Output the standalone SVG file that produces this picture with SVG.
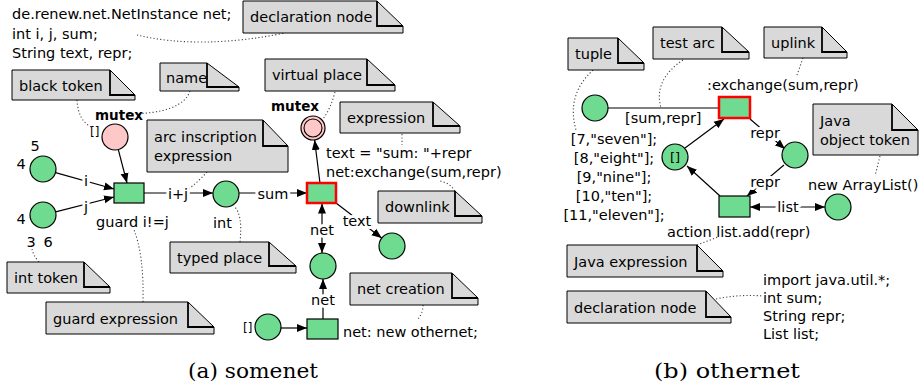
<svg xmlns="http://www.w3.org/2000/svg" width="919" height="387" viewBox="0 0 919 387">
<defs>
<marker id="ah" markerUnits="userSpaceOnUse" markerWidth="11" markerHeight="9" refX="10" refY="4.5" orient="auto-start-reverse" viewBox="0 0 11 9">
<path d="M0,0.5 L10,4.5 L0,8.5 z" fill="#000"/>
</marker>
</defs>
<style>
text{font-family:"DejaVu Sans","Liberation Sans",sans-serif;font-size:14.5px;fill:#000}
.b{font-weight:bold;font-size:13.5px}
.m{text-anchor:middle}
.h{paint-order:stroke;stroke:#fff;stroke-width:6px;stroke-linejoin:round}
.cap{font-family:"DejaVu Serif","Liberation Serif",serif;font-size:20px;text-anchor:middle}
.note polygon{fill:#d9d9d9;stroke:#000;stroke-width:1}
.note polyline{fill:none;stroke:#000;stroke-width:1.8}
.pl{fill:#6fdb90;stroke:#000;stroke-width:1.2}
.pk{fill:#ffc8c8;stroke:#000;stroke-width:1.2}
.tr{fill:#6fdb90;stroke:#000;stroke-width:1.2}
.trr{fill:#6fdb90;stroke:#ff0000;stroke-width:2.5}
.arc{fill:none;stroke:#000;stroke-width:1.2}
.arr{marker-end:url(#ah)}
.bi{marker-start:url(#ah);marker-end:url(#ah)}
.dot{fill:none;stroke:#444;stroke-width:1.1;stroke-dasharray:1.2 2.2}
</style>
<rect width="919" height="387" fill="#fff"/>

<!-- ===== (a) somenet ===== -->
<g id="decl-a">
<text x="12" y="19">de.renew.net.NetInstance net;</text>
<text x="12" y="38.5">int i, j, sum;</text>
<text x="12" y="58">String text, repr;</text>
</g>

<g id="connectors">
<!-- somenet arcs -->
<line class="arc arr" x1="55.5" y1="172.7" x2="114" y2="189"/>
<line class="arc arr" x1="55.6" y1="211.8" x2="114" y2="197"/>
<line class="arc arr" x1="118.3" y1="149.6" x2="127" y2="183"/>
<line class="arc arr" x1="144" y1="193" x2="213" y2="193"/>
<line class="arc arr" x1="239" y1="193" x2="307" y2="193"/>
<line class="arc arr" x1="320" y1="183" x2="314.6" y2="140"/>
<line class="arc arr" x1="336" y1="203" x2="381.7" y2="238.1"/>
<line class="arc bi" x1="322" y1="203.5" x2="322" y2="253"/>
<line class="arc arr" x1="323" y1="319" x2="323" y2="279"/>
<line class="arc arr" x1="281" y1="328" x2="307" y2="328"/>
<!-- othernet arcs -->
<line class="arc" x1="608" y1="108" x2="719" y2="108"/>
<line class="arc arr" x1="685" y1="148" x2="724" y2="119"/>
<line class="arc arr" x1="720" y1="196" x2="687" y2="166"/>
<line class="arc arr" x1="750" y1="119" x2="785" y2="149"/>
<line class="arc arr" x1="784" y1="165" x2="747" y2="196"/>
<line class="arc bi" x1="750" y1="207" x2="825" y2="207"/>
<!-- annotation lines -->
<path class="dot" d="M137,35 Q200,50 285,33"/>
<path class="dot" d="M77,100 Q78,120 91,127"/>
<path class="dot" d="M190,91 Q182,114 126,114"/>
<path class="dot" d="M335,92 Q331,108 323,119"/>
<path class="dot" d="M402,134 L402,145"/>
<path class="dot" d="M455,191 Q450,183 440,181"/>
<path class="dot" d="M207,172 Q198,182 186,191"/>
<path class="dot" d="M240,242 Q243,215 234,206"/>
<path class="dot" d="M39,262 Q33,255 32,249"/>
<path class="dot" d="M143,302 Q144,255 134,230"/>
<path class="dot" d="M423,305 Q423,314 417,320"/>
<path class="dot" d="M593,70 Q566,95 576,130"/>
<path class="dot" d="M683,60 Q653,80 661,108"/>
<path class="dot" d="M803,58 L797,75"/>
<path class="dot" d="M880,156 L875,176"/>
<path class="dot" d="M697,245 L718,237"/>
<path class="dot" d="M716,299 Q740,294 763,296"/>
</g>

<!-- notes (a) -->
<g id="note-decl-a" class="note"><polygon points="243,1 377,1 403,26 403,33 243,33"/><polyline points="377,1 377,26 403,26"/><text x="250" y="22">declaration node</text></g>
<g id="note-black" class="note"><polygon points="12,70 110,70 135,95 135,100 12,100"/><polyline points="110,70 110,95 135,95"/><text x="19" y="91">black token</text></g>
<g id="note-name" class="note"><polygon points="160,63 207,63 239,87 239,91 160,91"/><polyline points="207,63 207,87 239,87"/><text x="166" y="83">name</text></g>
<g id="note-virtual" class="note"><polygon points="265,59 367,59 395,85 395,91 265,91"/><polyline points="367,59 367,85 395,85"/><text x="272" y="80">virtual place</text></g>
<g id="note-expression" class="note"><polygon points="340,102 433,102 460,126 460,133 340,133"/><polyline points="433,102 433,126 460,126"/><text x="347" y="123">expression</text></g>
<g id="note-arcinscr" class="note"><polygon points="147,120 263,120 288,146 288,172 147,172"/><polyline points="263,120 263,146 288,146"/><text x="154" y="142">arc inscription</text><text x="154" y="161">expression</text></g>
<g id="note-downlink" class="note"><polygon points="378,191 455,191 482,216 482,223 378,223"/><polyline points="455,191 455,216 482,216"/><text x="385" y="212">downlink</text></g>
<g id="note-typed" class="note"><polygon points="170,242 269,242 296,266 296,273 170,273"/><polyline points="269,242 269,266 296,266"/><text x="177" y="263">typed place</text></g>
<g id="note-inttoken" class="note"><polygon points="7,262 84,262 110,287 110,293 7,293"/><polyline points="84,262 84,287 110,287"/><text x="14" y="283">int token</text></g>
<g id="note-netcreation" class="note"><polygon points="350,273 452,273 478,298 478,305 350,305"/><polyline points="452,273 452,298 478,298"/><text x="357" y="294">net creation</text></g>
<g id="note-guard" class="note"><polygon points="46,302 188,302 214,327 214,334 46,334"/><polyline points="188,302 188,327 214,327"/><text x="53" y="324">guard expression</text></g>

<!-- nodes (a) -->
<g id="p-i"><circle class="pl" cx="43" cy="169" r="13"/><text class="m" x="35" y="151">5</text><text class="m" x="21" y="169">4</text></g>
<g id="p-j"><circle class="pl" cx="43" cy="215" r="13"/><text class="m" x="21" y="224">4</text><text class="m" x="31" y="247">3</text><text class="m" x="48" y="247">6</text></g>
<g id="p-mutex"><circle class="pk" cx="115" cy="137" r="13"/><text x="90" y="136" style="font-size:12px">[]</text><text class="b" x="95" y="120">mutex</text></g>
<g id="t-guard"><rect class="tr" x="114" y="183" width="30" height="20"/><text x="96" y="227">guard i!=j</text></g>
<g id="p-int"><circle class="pl" cx="226" cy="194" r="13"/><text x="213" y="228">int</text></g>
<g id="t-exchange"><rect class="trr" x="307" y="183" width="29" height="20"/><text x="326" y="158">text = "sum: "+repr</text><text x="326" y="177">net:exchange(sum,repr)</text></g>
<g id="p-vmutex"><circle class="pk" cx="313" cy="128" r="12"/><circle fill="none" stroke="#000" stroke-width="1.1" cx="313" cy="128" r="9"/><text class="b" x="271" y="111">mutex</text></g>
<g id="p-text"><circle class="pl" cx="392" cy="246" r="13"/></g>
<g id="p-net"><circle class="pl" cx="323" cy="266" r="13"/></g>
<g id="t-new"><rect class="tr" x="307" y="319" width="31" height="20"/><text x="343" y="337">net: new othernet;</text></g>
<g id="p-start"><circle class="pl" cx="268" cy="327" r="13"/><text x="243" y="332" style="font-size:12px">[]</text></g>

<!-- arc labels (a) -->
<g id="labels-a">
<text class="m h" x="86" y="186">i</text>
<text class="m h" x="86" y="212">j</text>
<text class="m h" x="178" y="199">i+j</text>
<text class="m h" x="273" y="199">sum</text>
<text class="m h" x="322" y="235">net</text>
<text class="m h" x="323" y="305">net</text>
<text class="m h" x="357" y="226">text</text>
</g>

<!-- ===== (b) othernet ===== -->
<g id="note-tuple" class="note"><polygon points="568,38 618,38 644,63 644,70 568,70"/><polyline points="618,38 618,63 644,63"/><text x="575" y="59">tuple</text></g>
<g id="note-testarc" class="note"><polygon points="653,27 722,27 749,52 749,59 653,59"/><polyline points="722,27 722,52 749,52"/><text x="660" y="48">test arc</text></g>
<g id="note-uplink" class="note"><polygon points="764,27 822,27 847,52 847,58 764,58"/><polyline points="822,27 822,52 847,52"/><text x="771" y="48">uplink</text></g>
<g id="note-javaobj" class="note"><polygon points="813,104 892,104 918,130 918,155 813,155"/><polyline points="892,104 892,130 918,130"/><text x="820" y="126">Java</text><text x="820" y="145">object token</text></g>
<g id="note-javaexpr" class="note"><polygon points="567,245 697,245 723,271 723,277 567,277"/><polyline points="697,245 697,271 723,271"/><text x="574" y="267">Java expression</text></g>
<g id="note-decl-b" class="note"><polygon points="567,291 706,291 731,317 731,323 567,323"/><polyline points="706,291 706,317 731,317"/><text x="574" y="313">declaration node</text></g>

<g id="p-tuple"><circle class="pl" cx="595" cy="108" r="13"/>
<text class="m" x="614" y="144">[7,"seven"];</text>
<text class="m" x="614" y="163">[8,"eight"];</text>
<text class="m" x="614" y="182">[9,"nine"];</text>
<text class="m" x="614" y="201">[10,"ten"];</text>
<text class="m" x="614" y="220">[11,"eleven"];</text>
</g>
<g id="t-uplink"><rect class="trr" x="719" y="97" width="31" height="21"/><text x="707" y="90">:exchange(sum,repr)</text></g>
<g id="p-list0"><circle class="pl" cx="675" cy="157" r="13"/><text class="m" x="675" y="162" style="font-size:13px">[]</text></g>
<g id="p-repr"><circle class="pl" cx="795" cy="155" r="13"/></g>
<g id="t-action"><rect class="tr" x="719" y="196" width="31" height="21"/><text x="667" y="237">action list.add(repr)</text></g>
<g id="p-list"><circle class="pl" cx="838" cy="207" r="13"/><text x="808" y="190">new ArrayList()</text></g>
<g id="labels-b">
<text class="h" x="625" y="123">[sum,repr]</text>
<text class="m h" x="765" y="138">repr</text>
<text class="m h" x="765" y="187">repr</text>
<text class="m h" x="788" y="212">list</text>
</g>
<g id="decl-b">
<text x="763" y="285">import java.util.*;</text>
<text x="763" y="303">int sum;</text>
<text x="763" y="321">String repr;</text>
<text x="763" y="339">List list;</text>
</g>

<text class="cap" x="253" y="378" textLength="130" lengthAdjust="spacingAndGlyphs">(a) somenet</text>
<text class="cap" x="727" y="378" textLength="146" lengthAdjust="spacingAndGlyphs">(b) othernet</text>
</svg>
